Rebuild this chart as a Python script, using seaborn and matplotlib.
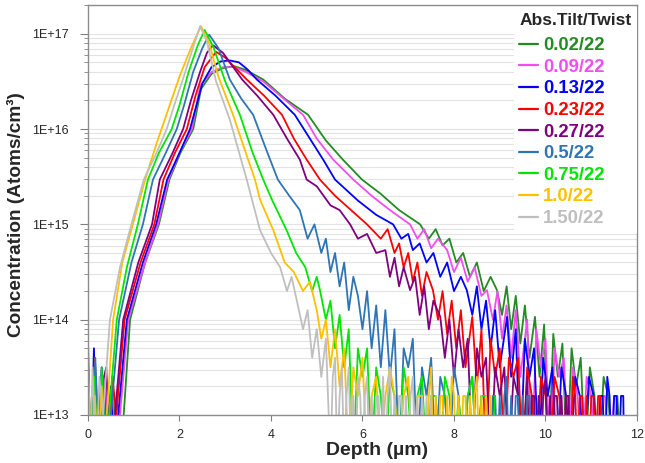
import numpy as np
import pandas as pd
import matplotlib
matplotlib.use("Agg")
import matplotlib.pyplot as plt
from matplotlib.lines import Line2D
from matplotlib.ticker import LogLocator, FuncFormatter, NullFormatter, FixedLocator
import seaborn as sns

# ---- data: (depth um, log10 concentration) ----
labels = ["0.02/22", "0.09/22", "0.13/22", "0.23/22", "0.27/22",
          "0.5/22", "0.75/22", "1.0/22", "1.50/22"]
colors = ["#228B22", "#F24DF2", "#0000FF", "#FF0000", "#7F007F",
          "#2E75B6", "#00E600", "#FFC000", "#BFBFBF"]

s_002 = [(0.0,13.3),(0.06,12.5),(0.14,13.5),(0.24,12.5),(0.34,13.3),(0.44,12.5),(0.54,13.4),(0.64,12.5),
         (0.78,13.0),(0.92,14.0),(1.25,14.6),(1.55,15.0),(1.78,15.47),(2.02,15.75),(2.3,16.0),(2.47,16.42),
         (2.7,16.58),(2.95,16.64),(3.2,16.66),(3.45,16.62),(3.83,16.52),(4.3,16.32),(4.81,16.15),(5.2,15.88),
         (5.57,15.68),(5.99,15.47),(6.4,15.32),(6.8,15.15),(7.26,15.0),(7.45,14.85),(7.6,14.95),(7.75,14.78),
         (7.9,14.85),(8.05,14.6),(8.2,14.7),(8.35,14.45),(8.5,14.6),(8.65,14.3),(8.8,14.45),(8.94,14.31),
         (9.05,14.05),(9.15,14.35),(9.25,13.9),(9.35,14.25),(9.45,13.75),(9.55,14.15),(9.65,13.6),(9.77,14.03),
         (9.87,13.4),(9.97,13.95),(10.07,12.5),(10.17,13.85),(10.27,13.4),(10.37,13.75),(10.47,12.5),
         (10.57,13.7),(10.67,13.3),(10.77,13.6),(10.87,12.5),(10.97,13.5),(11.07,13.2),(11.17,12.5),
         (11.27,13.4),(11.37,13.2),(11.47,12.5),(11.57,13.2),(11.65,12.5)]

s_009 = [(0.0,13.5),(0.08,12.5),(0.17,13.3),(0.27,12.5),(0.37,13.4),(0.47,12.5),(0.57,13.2),(0.7,13.0),
         (0.88,14.0),(1.25,14.6),(1.53,15.0),(1.76,15.47),(2.0,15.75),(2.27,16.0),(2.45,16.45),(2.7,16.6),
         (2.95,16.65),(3.2,16.65),(3.45,16.6),(3.83,16.5),(4.25,16.33),(4.7,16.15),(5.0,15.9),(5.36,15.68),
         (5.8,15.47),(6.2,15.3),(6.6,15.15),(7.04,15.0),(7.2,14.85),(7.35,14.95),(7.5,14.75),(7.65,14.85),
         (7.85,14.73),(8.0,14.5),(8.15,14.65),(8.3,14.4),(8.45,14.55),(8.6,14.25),(8.72,14.31),(8.85,14.0),
         (8.95,14.3),(9.05,13.8),(9.15,14.15),(9.25,13.6),(9.35,14.1),(9.45,13.4),(9.6,14.0),(9.7,12.5),
         (9.8,13.9),(9.9,13.5),(10.0,13.8),(10.1,12.5),(10.2,13.7),(10.3,13.4),(10.4,13.6),(10.5,12.5),
         (10.6,13.5),(10.7,13.2),(10.8,12.5),(10.9,13.4),(11.0,13.2),(11.1,12.5),(11.2,13.2),(11.3,13.2),
         (11.4,12.5),(11.5,13.2)]

s_013 = [(0.0,13.2),(0.06,12.5),(0.13,13.7),(0.2,12.5),(0.3,13.5),(0.4,12.5),(0.5,13.3),(0.58,12.5),
         (0.66,13.0),(0.85,14.0),(1.2,14.6),(1.49,15.0),(1.73,15.47),(2.0,15.75),(2.23,16.0),(2.5,16.48),
         (2.7,16.65),(2.9,16.71),(3.1,16.72),(3.3,16.7),(3.5,16.62),(3.69,16.52),(4.1,16.35),(4.52,16.15),
         (4.85,15.9),(5.14,15.68),(5.4,15.47),(5.9,15.25),(6.3,15.1),(6.67,15.0),(6.85,14.85),(7.0,14.9),
         (7.1,14.73),(7.25,14.8),(7.4,14.6),(7.55,14.7),(7.7,14.45),(7.85,14.6),(8.0,14.3),(8.15,14.45),
         (8.28,14.31),(8.4,14.05),(8.5,14.35),(8.6,13.9),(8.7,14.2),(8.8,13.7),(8.9,14.1),(9.0,13.5),
         (9.16,14.03),(9.25,13.4),(9.35,13.9),(9.45,12.5),(9.55,13.8),(9.65,13.4),(9.75,13.7),(9.85,12.5),
         (9.95,13.6),(10.05,13.2),(10.15,13.5),(10.25,12.5),(10.35,13.5),(10.45,13.2),(10.55,12.5),
         (10.65,13.4),(10.75,13.2),(10.85,12.5),(10.95,13.4),(11.05,13.2),(11.15,12.5),(11.2,13.2),
         (11.25,13.2),(11.3,12.5),(11.35,13.4),(11.4,13.2),(11.45,12.5),(11.5,13.2),(11.55,13.2),
         (11.6,12.5),(11.65,13.2),(11.7,13.2),(11.72,12.5)]

s_023 = [(0.0,13.4),(0.07,12.5),(0.15,13.6),(0.25,12.5),(0.35,13.3),(0.45,12.5),(0.53,13.4),(0.62,13.0),
         (0.8,14.0),(1.15,14.6),(1.45,15.0),(1.65,15.47),(1.9,15.75),(2.16,16.0),(2.35,16.35),(2.55,16.65),
         (2.8,16.81),(3.0,16.75),(3.47,16.52),(3.85,16.35),(4.24,16.15),(4.5,15.9),(4.78,15.68),(5.07,15.47),
         (5.4,15.3),(5.75,15.15),(6.1,15.0),(6.4,14.85),(6.55,14.95),(6.7,14.7),(6.8,14.8),(6.9,14.55),
         (7.0,14.7),(7.1,14.4),(7.2,14.6),(7.3,14.25),(7.4,14.5),(7.54,14.31),(7.65,14.0),(7.75,14.3),
         (7.85,13.85),(7.95,14.2),(8.05,13.7),(8.15,14.1),(8.25,13.5),(8.4,14.03),(8.5,13.3),(8.6,13.9),
         (8.7,12.5),(8.8,13.8),(8.9,13.4),(9.0,13.7),(9.1,12.5),(9.2,13.6),(9.3,13.4),(9.4,13.6),(9.5,12.5),
         (9.6,13.5),(9.7,13.2),(9.8,12.5),(9.9,13.4),(10.0,13.2),(10.1,12.5),(10.2,13.4),(10.3,13.2),
         (10.4,12.5),(10.45,13.2),(10.5,13.2),(10.55,12.5),(10.6,13.4),(10.65,13.2),(10.7,12.5),(10.75,13.2),
         (10.8,13.2),(10.85,12.5),(10.9,13.2),(10.95,12.5),(11.0,13.2),(11.05,13.2),(11.1,12.5),(11.15,13.2),
         (11.2,13.2),(11.22,12.5)]

s_027 = [(0.0,13.8),(0.05,12.5),(0.12,13.5),(0.2,12.5),(0.3,13.3),(0.4,13.5),(0.48,12.5),(0.59,13.0),
         (0.77,14.0),(1.1,14.6),(1.4,15.0),(1.57,15.47),(1.85,15.75),(2.08,16.0),(2.25,16.3),(2.45,16.6),
         (2.6,16.8),(2.73,16.88),(2.95,16.8),(3.37,16.52),(3.7,16.35),(4.05,16.15),(4.35,15.9),(4.63,15.68),
         (4.78,15.47),(5.0,15.4),(5.3,15.2),(5.5,15.15),(5.73,15.0),(5.9,14.85),(6.1,14.9),(6.3,14.7),
         (6.5,14.73),(6.6,14.45),(6.7,14.65),(6.8,14.35),(6.9,14.55),(7.04,14.31),(7.15,14.45),(7.25,14.05),
         (7.35,14.35),(7.45,13.9),(7.55,14.2),(7.7,14.03),(7.8,13.6),(7.9,14.0),(8.0,13.4),(8.1,13.9),
         (8.2,13.5),(8.3,13.8),(8.4,12.5),(8.5,13.7),(8.6,13.4),(8.7,13.6),(8.8,12.5),(8.9,13.5),(9.0,13.2),
         (9.1,13.5),(9.2,12.5),(9.3,13.4),(9.4,13.2),(9.5,12.5),(9.6,13.4),(9.65,12.5),(9.7,13.2),(9.75,13.2),
         (9.8,12.5),(9.85,13.2),(9.9,12.5),(9.95,13.2),(10.0,13.4),(10.05,12.5),(10.1,13.2),(10.15,12.5),
         (10.2,13.2),(10.25,13.2),(10.3,12.5),(10.35,13.2),(10.4,12.5),(10.45,13.2),(10.5,13.2),(10.52,12.5)]

s_050 = [(0.0,13.5),(0.08,12.5),(0.16,13.6),(0.25,12.5),(0.33,13.4),(0.42,12.5),(0.5,13.0),(0.68,14.0),
         (0.95,14.6),(1.2,15.0),(1.42,15.47),(1.7,15.75),(1.94,16.0),(2.1,16.25),(2.3,16.6),(2.5,16.85),
         (2.65,16.99),(2.85,16.85),(3.1,16.52),(3.35,16.32),(3.61,16.15),(3.9,15.78),(4.15,15.47),(4.4,15.3),
         (4.63,15.15),(4.8,14.85),(4.95,15.0),(5.1,14.7),(5.2,14.85),(5.3,14.5),(5.4,14.7),(5.5,14.35),
         (5.6,14.6),(5.7,14.1),(5.8,14.45),(5.9,14.25),(6.0,13.9),(6.1,14.3),(6.2,13.7),(6.3,14.15),
         (6.4,13.5),(6.5,14.1),(6.6,13.4),(6.7,13.9),(6.8,12.5),(6.9,13.7),(7.0,13.5),(7.1,13.8),(7.2,12.5),
         (7.3,13.5),(7.4,13.2),(7.5,13.6),(7.6,12.5),(7.7,13.4),(7.8,13.2),(7.9,12.5),(8.0,13.5),(8.1,13.2),
         (8.2,12.5),(8.3,13.2),(8.4,13.4),(8.5,12.5),(8.6,13.2),(8.7,13.2),(8.8,12.5),(8.85,13.2),(8.9,13.2),
         (8.95,12.5),(9.0,13.2),(9.05,12.5),(9.1,13.2),(9.15,13.4),(9.2,12.5),(9.25,13.2),(9.3,12.5),
         (9.35,13.2),(9.4,13.2),(9.45,12.5),(9.5,13.2),(9.55,12.5),(9.6,13.2),(9.65,13.2),(9.7,12.5)]

s_075 = [(0.0,13.6),(0.07,12.5),(0.14,13.4),(0.22,12.5),(0.3,13.5),(0.38,12.5),(0.46,13.0),(0.63,14.0),
         (0.85,14.55),(1.09,15.0),(1.31,15.47),(1.55,15.75),(1.83,16.0),(2.0,16.25),(2.2,16.6),(2.4,16.88),
         (2.55,17.04),(2.75,16.85),(3.0,16.5),(3.32,16.15),(3.6,15.75),(3.83,15.47),(4.02,15.26),(4.34,14.94),
         (4.55,14.7),(4.75,14.55),(4.9,14.3),(5.0,14.45),(5.07,14.31),(5.2,14.0),(5.3,14.2),(5.4,13.7),
         (5.5,14.05),(5.6,13.5),(5.7,13.9),(5.8,12.5),(5.9,13.7),(6.0,13.4),(6.1,13.7),(6.2,12.5),(6.3,13.5),
         (6.4,13.2),(6.5,12.5),(6.6,13.4),(6.7,13.2),(6.8,12.5),(6.9,13.5),(7.0,13.2),(7.1,12.5),(7.2,13.2),
         (7.3,13.4),(7.4,12.5),(7.5,13.2),(7.6,13.2),(7.7,12.5),(7.8,13.4),(7.9,13.2),(8.0,12.5),(8.1,13.2),
         (8.2,12.5),(8.3,13.2),(8.4,13.4),(8.5,12.5),(8.6,13.2),(8.7,13.2),(8.8,12.5),(8.9,13.2)]

s_100 = [(0.0,13.5),(0.08,12.5),(0.15,13.2),(0.22,12.5),(0.3,13.3),(0.36,12.5),(0.41,13.0),(0.55,14.0),
         (0.75,14.6),(0.98,15.0),(1.25,15.47),(1.5,15.85),(1.75,16.2),(2.0,16.55),(2.25,16.85),(2.47,17.08),
         (2.65,16.9),(2.85,16.55),(3.17,16.15),(3.45,15.75),(3.65,15.47),(3.76,15.26),(4.05,14.94),(4.3,14.6),
         (4.5,14.5),(4.7,14.3),(4.85,14.4),(5.0,14.1),(5.1,13.8),(5.2,14.0),(5.3,13.5),(5.4,13.9),(5.5,13.3),
         (5.6,13.7),(5.7,12.5),(5.8,13.5),(5.9,13.2),(6.0,13.6),(6.1,12.5),(6.2,13.2),(6.3,13.4),(6.4,12.5),
         (6.5,13.2),(6.6,13.5),(6.7,13.2),(6.8,12.5),(6.9,13.2),(7.0,13.4),(7.1,12.5),(7.2,13.2),(7.3,13.2),
         (7.4,12.5),(7.45,13.2),(7.5,13.5),(7.55,12.5),(7.6,13.2),(7.65,12.5),(7.7,13.2),(7.75,13.2),
         (7.8,12.5),(7.85,13.2),(7.9,12.5),(7.95,13.4),(8.0,13.2),(8.05,12.5),(8.1,13.2),(8.15,12.5),
         (8.2,13.2),(8.25,13.2),(8.3,12.5),(8.35,13.2),(8.4,12.5),(8.45,13.2),(8.5,13.4),(8.55,12.5),
         (8.6,13.2),(8.65,12.5),(8.7,13.2),(8.75,12.5),(8.8,13.2),(8.82,12.5)]

s_150 = [(0.0,13.3),(0.05,12.5),(0.1,13.5),(0.18,12.5),(0.25,13.4),(0.33,13.0),(0.48,14.0),(0.7,14.55),
         (0.95,15.0),(1.22,15.47),(1.5,15.75),(1.72,16.0),(1.9,16.27),(2.1,16.56),(2.3,16.86),(2.45,17.08),
         (2.6,16.92),(2.8,16.5),(3.1,16.1),(3.47,15.47),(3.76,14.94),(4.0,14.7),(4.2,14.55),(4.35,14.3),
         (4.45,14.45),(4.56,14.21),(4.7,13.9),(4.8,14.1),(4.9,13.6),(5.0,13.9),(5.1,13.4),(5.2,13.8),
         (5.3,12.5),(5.35,13.4),(5.4,13.6),(5.45,12.5),(5.5,13.2),(5.55,13.5),(5.6,12.5),(5.65,13.2),
         (5.7,13.5),(5.75,12.5),(5.8,13.2),(5.85,12.5),(5.9,13.4),(5.95,13.2),(6.0,12.5),(6.05,13.2),
         (6.1,13.4),(6.15,12.5),(6.2,13.2),(6.25,12.5),(6.3,13.2),(6.35,13.2),(6.4,12.5),(6.45,13.4),
         (6.5,12.5),(6.55,13.2),(6.6,13.5),(6.65,12.5),(6.7,13.2),(6.75,12.5),(6.8,13.2),(6.85,13.2),
         (6.9,12.5),(6.95,13.2),(7.0,12.5),(7.05,13.2),(7.1,13.4),(7.15,12.5),(7.2,13.2),(7.25,12.5),
         (7.3,13.2),(7.35,12.5),(7.4,13.2),(7.45,12.5),(7.5,13.2),(7.52,12.5)]

series = [s_002, s_009, s_013, s_023, s_027, s_050, s_075, s_100, s_150]
yticks_exp = [13, 14, 15, 16, 17]
xticks = [0, 2, 4, 6, 8, 10, 12]

# ---- long-format table ----
rows = []
for lab, pts in zip(labels, series):
    for d, lc in pts:
        rows.append({"Depth": d, "Conc": 10.0 ** lc, "Series": lab})
df = pd.DataFrame(rows)

sns.set_style("white")
plt.rcParams["font.family"] = ["Liberation Sans", "DejaVu Sans"]

fig = plt.figure(figsize=(6.45, 4.63), dpi=100)
ax = fig.add_axes([0.1364, 0.1037, 0.8512, 0.8853])
ax.set_yscale("log")

sns.lineplot(data=df, x="Depth", y="Conc", hue="Series", hue_order=labels,
             palette=colors, estimator=None, sort=False, linewidth=1.3,
             legend=False, ax=ax)

ax.set_xlim(0, 12)
ax.set_ylim(1e13, 2e17)

ax.xaxis.set_major_locator(FixedLocator(xticks))
ax.yaxis.set_major_locator(FixedLocator([10.0 ** e for e in yticks_exp]))
ax.yaxis.set_minor_locator(LogLocator(base=10, subs=np.arange(2, 10)))
ax.yaxis.set_major_formatter(FuncFormatter(lambda v, p: "1E+%d" % int(round(np.log10(v)))))
ax.yaxis.set_minor_formatter(NullFormatter())

ax.tick_params(axis="y", which="major", direction="out", length=6, width=0.8,
               color="#808080", labelsize=9, pad=8, left=True)
ax.tick_params(axis="y", which="minor", direction="out", length=3, width=0.6,
               color="#808080", left=True)
ax.tick_params(axis="x", which="major", direction="out", length=4, width=0.8,
               color="#808080", labelsize=9, pad=6, bottom=True)

ax.grid(True, which="both", axis="y", color="#e3e3e3", linewidth=0.8)
ax.grid(False, axis="x")
ax.set_axisbelow(True)

for sp in ax.spines.values():
    sp.set_color("#8c8c8c")
    sp.set_linewidth(1.0)

ax.set_xlabel("Depth (µm)", fontsize=14, fontweight="bold", labelpad=2)
ax.xaxis.set_label_coords(0.526, -0.065)
ax.set_ylabel("Concentration (Atoms/cm³)", fontsize=13.7, fontweight="bold", labelpad=4)
ax.yaxis.set_label_coords(-0.115, 0.488)

handles = [Line2D([0], [0], color=c, lw=1.6) for c in colors]
leg = ax.legend(handles, labels, title="Abs.Tilt/Twist", loc="upper right",
                bbox_to_anchor=(1.0, 0.995), frameon=True, framealpha=1.0,
                facecolor="white", edgecolor="none", fancybox=False,
                prop={"size": 13.3, "weight": "bold"},
                title_fontproperties={"size": 12.5, "weight": "bold"},
                handlelength=1.0, handletextpad=0.3, labelspacing=0.25,
                borderpad=0.3, borderaxespad=0.0, alignment="left")
for t, c in zip(leg.get_texts(), colors):
    t.set_color(c)
try:
    leg._legend_box.sep = leg._legend_box.sep + 3.5
except Exception:
    pass

fig.savefig("out.png", dpi=100)
